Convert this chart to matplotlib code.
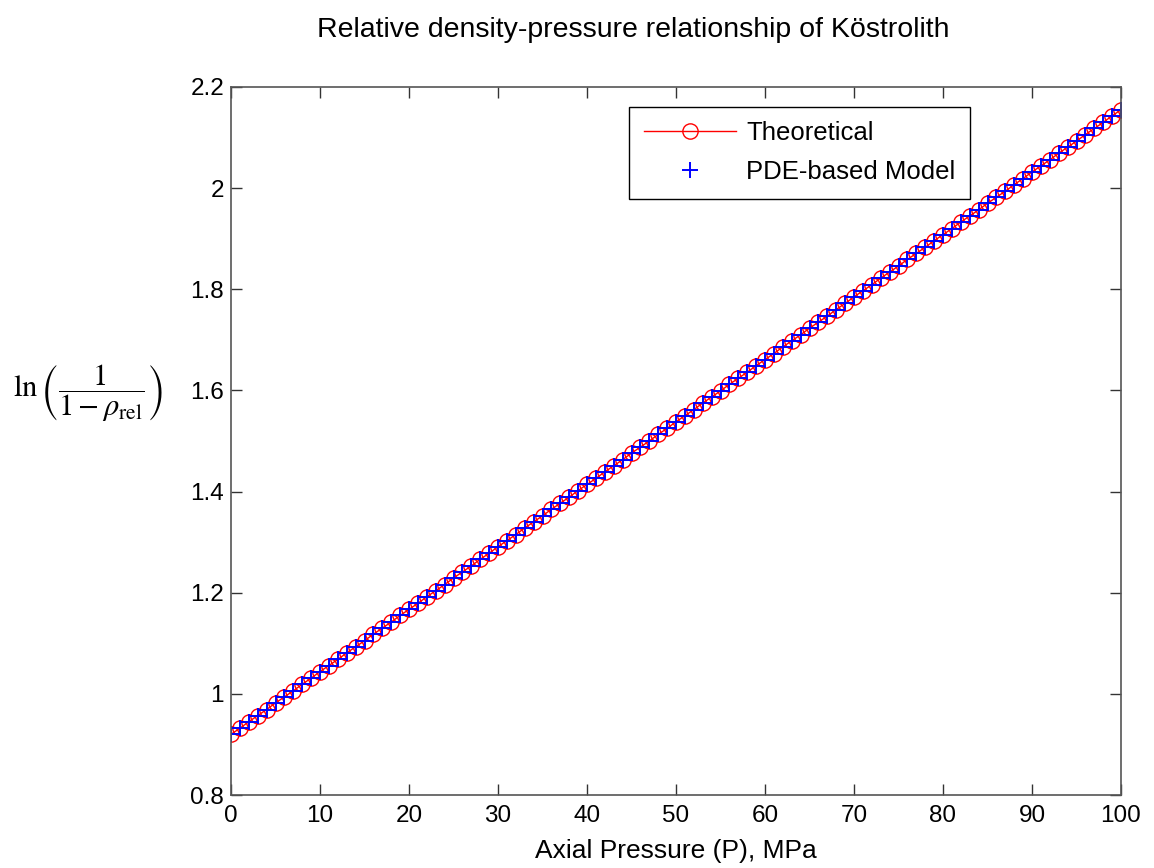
import matplotlib
matplotlib.use("Agg")
import matplotlib.pyplot as plt

pressure = list(range(0, 101))
theoretical = [
    0.920, 0.932, 0.945, 0.957, 0.969, 0.982, 0.994, 1.006, 1.019, 1.031,
    1.044, 1.056, 1.068, 1.081, 1.093, 1.105, 1.118, 1.130, 1.142, 1.155,
    1.167, 1.179, 1.192, 1.204, 1.216, 1.229, 1.241, 1.253, 1.266, 1.278,
    1.291, 1.303, 1.315, 1.328, 1.340, 1.352, 1.365, 1.377, 1.389, 1.402,
    1.414, 1.426, 1.439, 1.451, 1.463, 1.476, 1.488, 1.500, 1.513, 1.525,
    1.538, 1.550, 1.562, 1.575, 1.587, 1.599, 1.612, 1.624, 1.636, 1.649,
    1.661, 1.673, 1.686, 1.698, 1.710, 1.723, 1.735, 1.747, 1.760, 1.772,
    1.785, 1.797, 1.809, 1.822, 1.834, 1.846, 1.859, 1.871, 1.883, 1.896,
    1.908, 1.920, 1.933, 1.945, 1.957, 1.970, 1.982, 1.994, 2.007, 2.019,
    2.032, 2.044, 2.056, 2.069, 2.081, 2.093, 2.106, 2.118, 2.130, 2.143,
    2.155,
]
pde_model = list(theoretical)

xticks = [0, 10, 20, 30, 40, 50, 60, 70, 80, 90, 100]
yticks = [0.8, 1.0, 1.2, 1.4, 1.6, 1.8, 2.0, 2.2]
ytick_labels = ["0.8", "1", "1.2", "1.4", "1.6", "1.8", "2", "2.2"]

plt.rcParams['font.family'] = ['Liberation Sans', 'DejaVu Sans']
plt.rcParams['mathtext.fontset'] = 'stix'

fig = plt.figure(figsize=(11.54, 8.68), dpi=100)
ax = fig.add_axes([231/1154, 1-795/868, (1121-231)/1154, (795-87)/868])

ax.plot(pressure, theoretical, '-o', color='red', lw=1.0, markersize=11,
        markerfacecolor='none', markeredgewidth=1.0, label='Theoretical')
ax.plot(pressure, pde_model, '+', color='blue', markersize=11,
        markeredgewidth=1.4, linestyle='none', label='PDE-based Model')

ax.set_xlim(0, 100)
ax.set_ylim(0.8, 2.2)
ax.set_xticks(xticks)
ax.set_yticks(yticks)
ax.set_yticklabels(ytick_labels)
ax.tick_params(direction='in', top=True, right=True, labelsize=17.5, length=8,
               width=1, color='#333333')
ax.tick_params(axis='x', pad=7)
ax.tick_params(axis='y', pad=5)
for s in ax.spines.values():
    s.set_color('#555555')
    s.set_linewidth(1.2)

ax.set_xlabel('Axial Pressure (P), MPa', fontsize=19, labelpad=9)

fig.text(633/1154, 1-30/868, 'Relative density-pressure relationship of Köstrolith',
         fontsize=20.5, ha='center', va='center')

fig.text(88/1154, 1-393/868, r'$\ln\left(\dfrac{1}{1-\rho_{\mathrm{rel}}}\right)$',
         fontsize=22, ha='center', va='center')

leg = ax.legend(loc='upper right', bbox_to_anchor=(0.830, 0.972), fontsize=18.5,
                fancybox=False, framealpha=1, edgecolor='black', borderpad=0.55,
                handlelength=3.6, handletextpad=0.4, labelspacing=0.6,
                borderaxespad=0)
leg.get_frame().set_linewidth(1.0)

fig.savefig('out.png', dpi=100)
